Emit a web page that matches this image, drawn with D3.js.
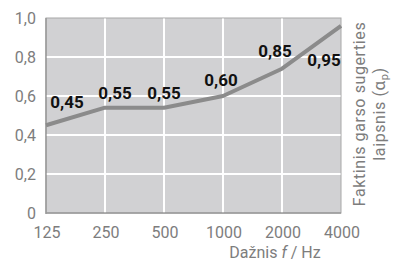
<!DOCTYPE html>
<html><head><meta charset="utf-8">
<script src="https://cdn.jsdelivr.net/npm/d3@7"></script>
<style>
html,body{margin:0;padding:0;background:#fff;}
svg{display:block;font-family:Roboto,"Liberation Sans",sans-serif;}
</style></head>
<body>
<svg id="chart" width="396" height="264"></svg>
<script>
const categories = ["125","250","500","1000","2000","4000"];
const lineValues = [0.45, 0.54, 0.54, 0.60, 0.74, 0.96];
const labelValues = [0.45, 0.55, 0.55, 0.60, 0.85, 0.95];
const yTicks = [0, 0.2, 0.4, 0.6, 0.8, 1.0];

// label placement (layout only)
const labelDx = [21, 10, 0, -2, -7, -17];
const labelDy = [-17, -7, -7, -10, 10, 38];

const fmt = v => d3.format(".2f")(v).replace(".", ",");
const fmtTick = v => v === 0 ? "0" : d3.format(".1f")(v).replace(".", ",");

const svg = d3.select("#chart");
const m = {left:46, right:341, top:18, bottom:213};
const x = d3.scalePoint().domain(categories).range([m.left, m.right]).padding(0);
const y = d3.scaleLinear().domain([0,1]).range([m.bottom, m.top]);
const grey = "#7d7d7d";

svg.append("rect").attr("x",m.left).attr("y",m.top)
  .attr("width",m.right-m.left).attr("height",m.bottom-m.top)
  .attr("fill","#d1d1d3").attr("stroke","#a8a8a8").attr("stroke-width",1);

// grid
svg.append("g").selectAll("line").data(categories.slice(1,-1)).join("line")
  .attr("x1",d=>x(d)).attr("x2",d=>x(d)).attr("y1",m.top+0.5).attr("y2",m.bottom)
  .attr("stroke","#fff").attr("stroke-width",2);
svg.append("g").selectAll("line").data(yTicks.slice(1,-1)).join("line")
  .attr("x1",m.left).attr("x2",m.right-0.5).attr("y1",d=>y(d)).attr("y2",d=>y(d))
  .attr("stroke","#fff").attr("stroke-width",2);

// axes lines
svg.append("line").attr("x1",m.left).attr("x2",m.left).attr("y1",m.top).attr("y2",m.bottom+1)
  .attr("stroke","#9a9a9a").attr("stroke-width",1.5);
svg.append("line").attr("x1",m.left).attr("x2",m.right).attr("y1",m.bottom).attr("y2",m.bottom)
  .attr("stroke","#9a9a9a").attr("stroke-width",1.5);

// y tick labels
svg.append("g").selectAll("text").data(yTicks).join("text")
  .attr("x",36).attr("y",d=>y(d)).attr("dy","0.36em")
  .attr("text-anchor","end").attr("font-size",16).attr("fill",grey)
  .text(fmtTick);

// x tick labels
svg.append("g").selectAll("text").data(categories).join("text")
  .attr("x",d=>x(d)+1).attr("y",238)
  .attr("text-anchor","middle").attr("font-size",16).attr("fill",grey)
  .text(d=>d);

// x title
const xt = svg.append("text").attr("x",275).attr("y",258).attr("text-anchor","middle")
  .attr("font-size",16).attr("fill",grey);
xt.append("tspan").text("Dažnis ");
xt.append("tspan").attr("font-style","italic").text("f");
xt.append("tspan").text(" / Hz");

// y title (rotated, right side)
const yt = svg.append("g").attr("transform","translate(365,114) rotate(-90)");
yt.append("text").attr("text-anchor","middle").attr("font-size",16).attr("fill",grey)
  .attr("letter-spacing",0.6).text("Faktinis garso  sugerties");
const l2 = yt.append("text").attr("y",20).attr("text-anchor","middle").attr("font-size",16)
  .attr("fill",grey).attr("letter-spacing",0.6);
l2.append("tspan").text("laipsnis  (");
l2.append("tspan").attr("font-size",17).text("α");
l2.append("tspan").attr("font-size",11).attr("dy",3).text("p");
l2.append("tspan").attr("dy",-3).text(")");

// line
const line = d3.line().x((d,i)=>x(categories[i])).y(d=>y(d)).curve(d3.curveLinear);
svg.append("path").datum(lineValues).attr("d",line)
  .attr("fill","none").attr("stroke","#8b8b8b").attr("stroke-width",4)
  .attr("stroke-linejoin","round");

// value labels
svg.append("g").selectAll("text").data(labelValues).join("text")
  .attr("x",(d,i)=>x(categories[i])+labelDx[i])
  .attr("y",(d,i)=>y(d)+labelDy[i])
  .attr("text-anchor","middle").attr("font-size",17).attr("font-weight","bold")
  .attr("fill","#111").text(fmt);
</script>
</body></html>
